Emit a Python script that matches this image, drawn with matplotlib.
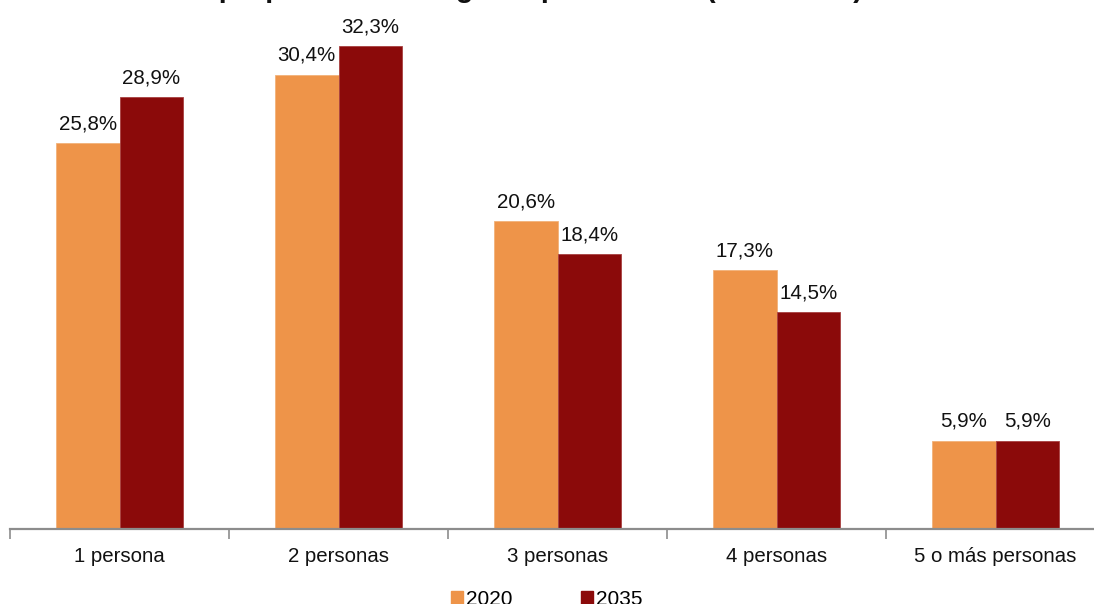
import numpy as np
import matplotlib
matplotlib.use("Agg")
import matplotlib.pyplot as plt
from matplotlib.patches import Patch

plt.rcParams['font.family'] = ['Liberation Sans', 'DejaVu Sans']

categorias = ["1 persona", "2 personas", "3 personas", "4 personas", "5 o más personas"]
valores_2020 = [25.8, 30.4, 20.6, 17.3, 5.9]
valores_2035 = [28.9, 32.3, 18.4, 14.5, 5.9]
series = ["2020", "2035"]
titulo = "La proporción de hogares por tamaño (2020-2035)"

color_2020 = "#EE9449"
color_2035 = "#8B0A0A"

W, H = 1094, 604
fig = plt.figure(figsize=(W / 100, H / 100), dpi=100)
# eje de 10 px a 1105 px, base en y=529
ax = fig.add_axes([10 / W, 75 / H, 1095 / W, 523 / H])

x = np.arange(len(categorias))
ancho = 0.29
b1 = ax.bar(x, valores_2020, width=-ancho, align='edge', color=color_2020,
            edgecolor='#F2B27A', linewidth=0.6)
b2 = ax.bar(x, valores_2035, width=ancho, align='edge', color=color_2035,
            edgecolor='#A84040', linewidth=0.6)

def fmt(v):
    return f"{v:.1f}".replace(".", ",") + "%"

for barras, vals in [(b1, valores_2020), (b2, valores_2035)]:
    for b, v in zip(barras, vals):
        ax.annotate(fmt(v), (b.get_x() + b.get_width() / 2, v),
                    xytext=(0, 10), textcoords='offset points',
                    ha='center', va='baseline', fontsize=14.8, color='#111111')

ax.set_xlim(-0.5, len(categorias) - 0.5)
ax.set_ylim(0, 35)
ax.set_yticks([])
for s in ['top', 'right', 'left']:
    ax.spines[s].set_visible(False)
ax.spines['bottom'].set_color('#8C8C8C')
ax.spines['bottom'].set_linewidth(1.6)

ax.set_xticks(x)
ax.set_xticklabels(categorias, fontsize=14.7, color='#111111')
ax.tick_params(axis='x', which='major', length=0, pad=13)
ax.set_xticks(np.arange(-0.5, len(categorias)), minor=True)
ax.tick_params(axis='x', which='minor', length=7, width=1.2, color='#8C8C8C')

handles = [Patch(color=color_2020), Patch(color=color_2035)]
fig.legend(handles, series, loc='upper center', bbox_to_anchor=(0.5, 14 / H),
           ncol=2, frameon=False, fontsize=15, handlelength=0.58, handleheight=0.58,
           handletextpad=0.14, columnspacing=3.3, borderpad=0, borderaxespad=0)

fig.text(177 / W, 1 + 3 / H, titulo, ha='left', va='baseline',
         fontsize=20.8, fontweight='bold', color='#111111')

fig.savefig("out.png", dpi=100)
